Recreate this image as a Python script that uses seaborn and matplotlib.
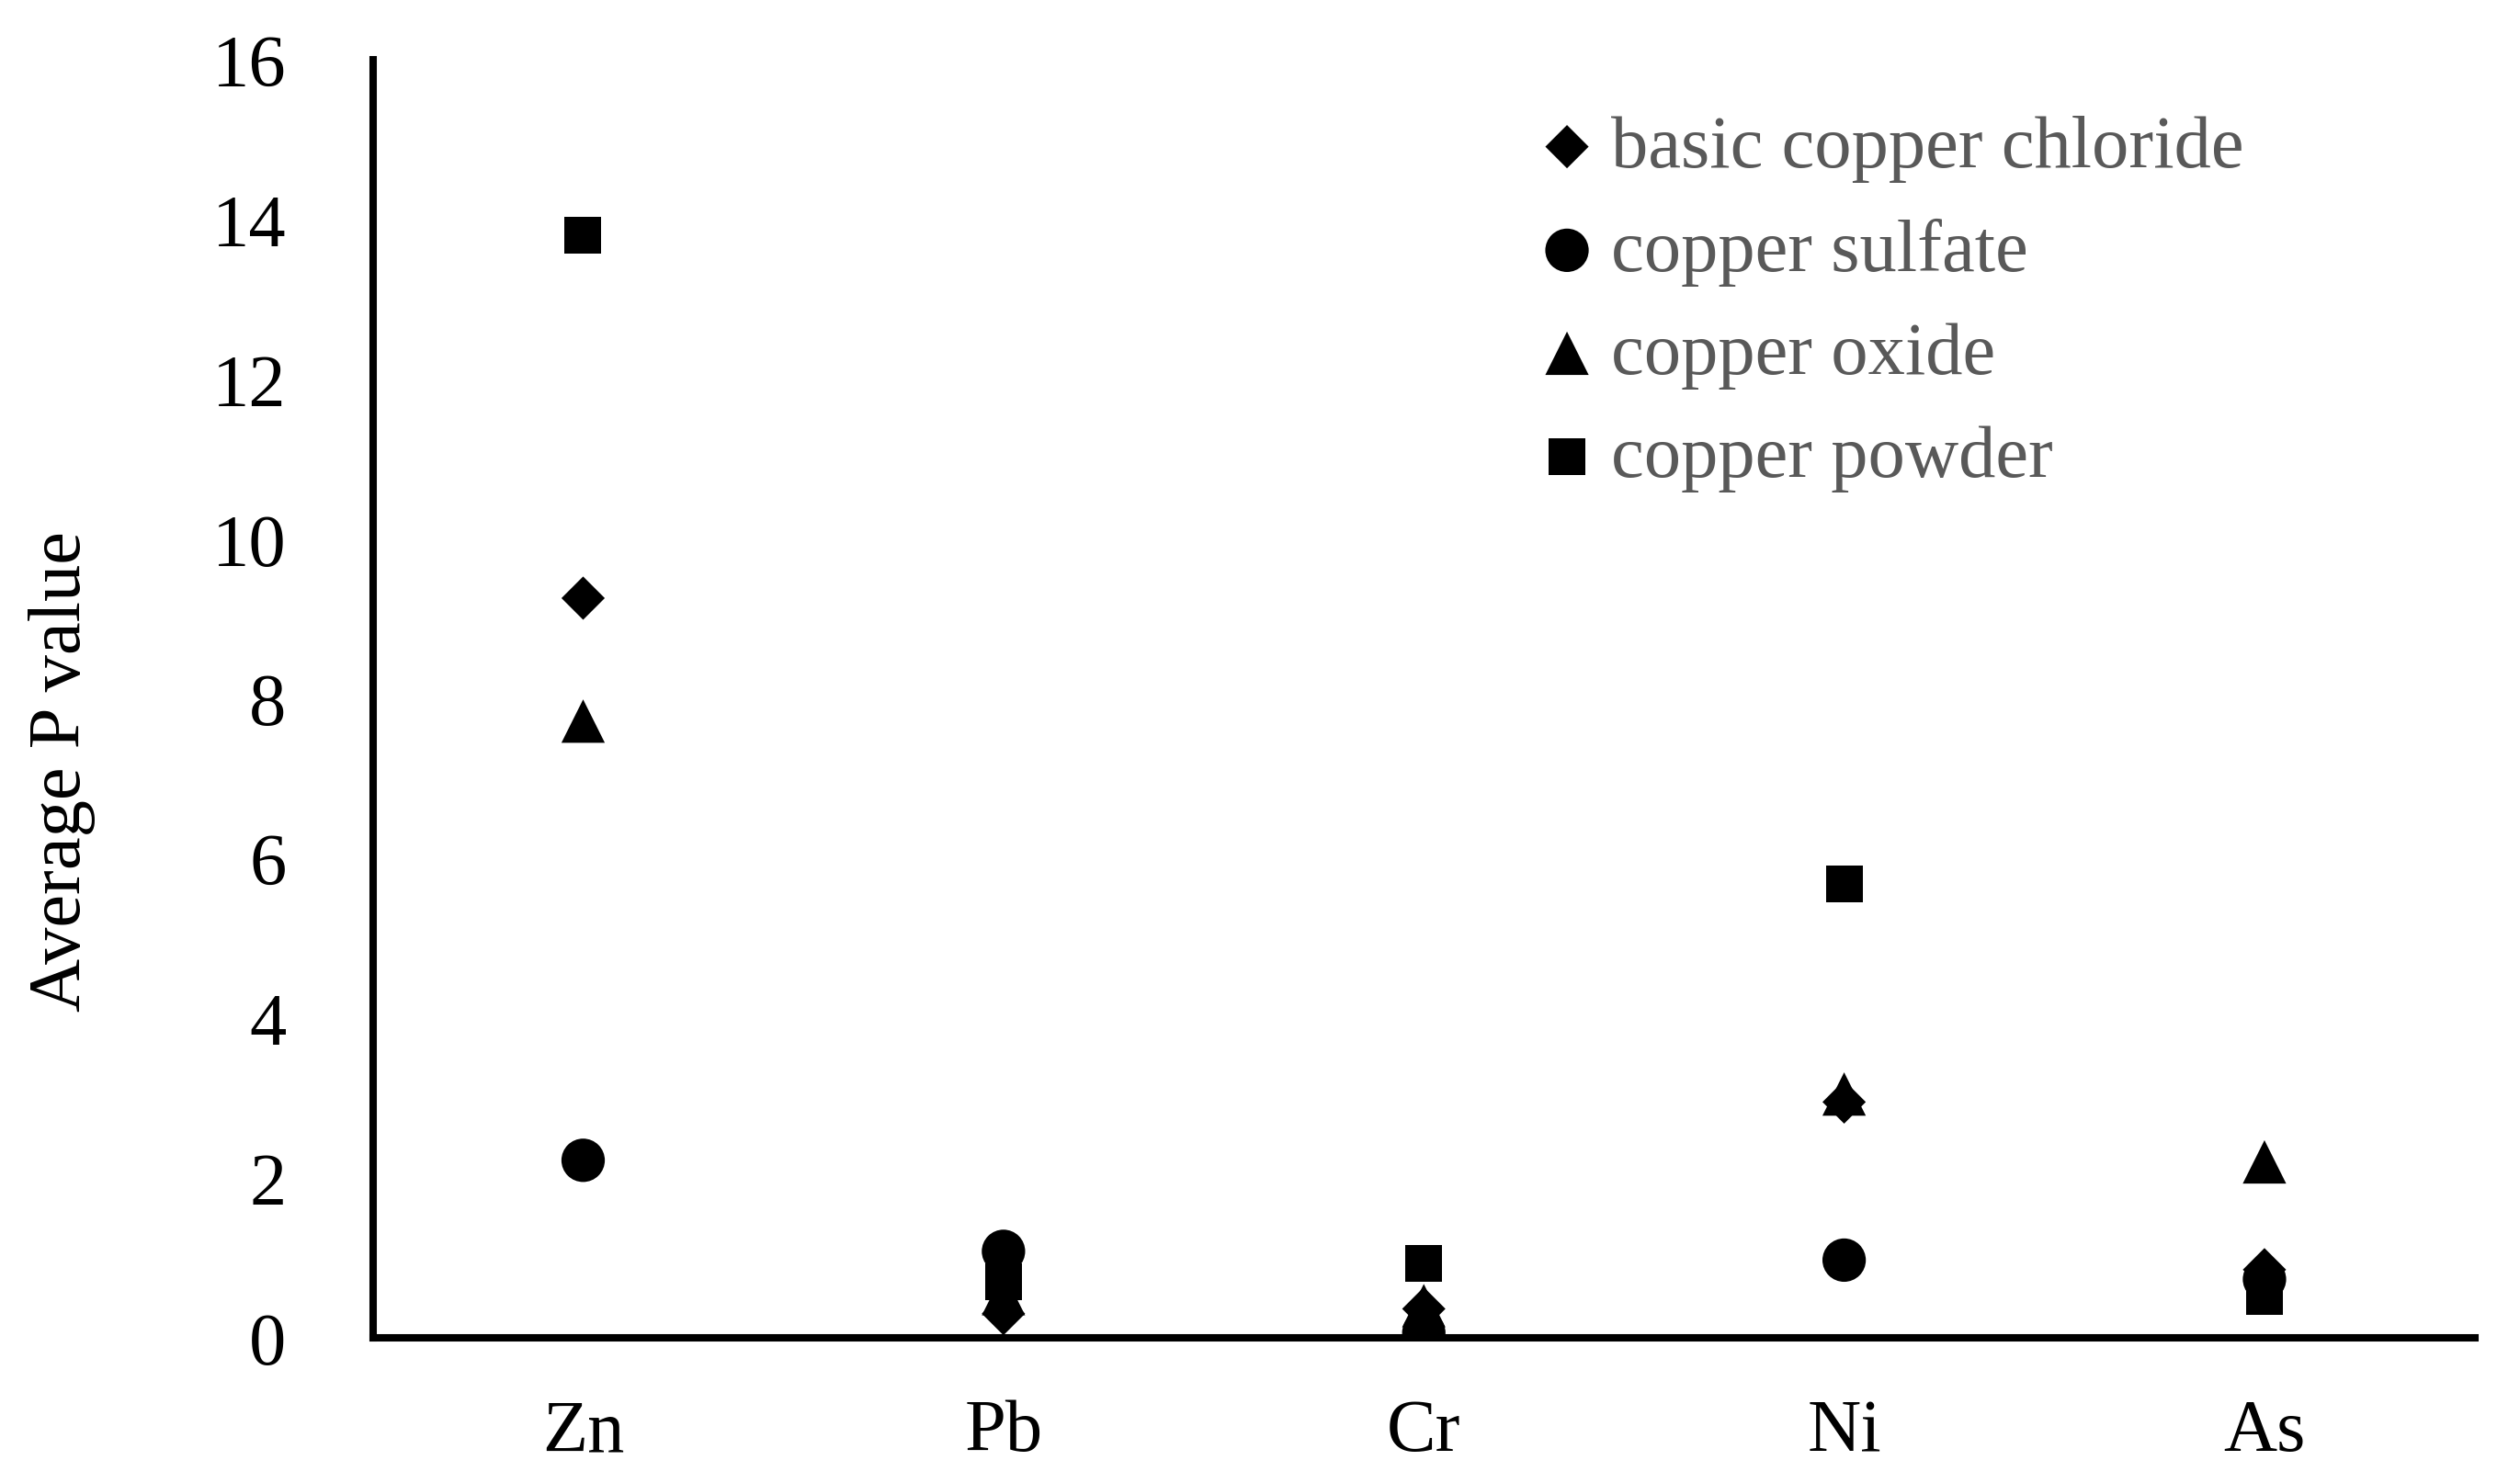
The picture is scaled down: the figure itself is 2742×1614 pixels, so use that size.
import matplotlib
matplotlib.use("Agg")
import matplotlib.pyplot as plt
import seaborn as sns
import pandas as pd

elements = ["Zn", "Pb", "Cr", "Ni", "As"]
basic_copper_chloride = [9.26, 0.30, 0.36, 2.95, 0.85]
copper_sulfate = [2.22, 1.08, 0.06, 0.97, 0.73]
copper_oxide = [7.72, 0.55, 0.40, 3.05, 2.20]
copper_powder = [13.8, 0.70, 0.93, 5.68, 0.52]

series_names = ["basic copper chloride", "copper sulfate", "copper oxide", "copper powder"]
series_values = [basic_copper_chloride, copper_sulfate, copper_oxide, copper_powder]
y_ticks = [0, 2, 4, 6, 8, 10, 12, 14, 16]

rows = []
for name, vals in zip(series_names, series_values):
    for el, v in zip(elements, vals):
        rows.append({"element": el, "value": v, "series": name})
df = pd.DataFrame(rows)

sns.set_theme(style="white")
plt.rcParams["font.family"] = ["Liberation Serif", "DejaVu Serif"]

fig = plt.figure(figsize=(13.71, 8.075), dpi=200)
ax = fig.add_axes([0.148, 0.098, 0.834, 0.861])

markers = {"basic copper chloride": "D", "copper sulfate": "o",
           "copper oxide": "^", "copper powder": "s"}
msizes = {"basic copper chloride": 12.0, "copper sulfate": 17.0,
          "copper oxide": 17.0, "copper powder": 14.4}

for name in series_names:
    sub = df[df["series"] == name]
    sns.scatterplot(data=sub, x="element", y="value", marker=markers[name],
                    s=msizes[name] ** 2, color="black", edgecolor="none",
                    linewidth=0, label=name, ax=ax, zorder=3)

ax.set_xlim(-0.5, 4.5)
ax.set_ylim(0, 16)
ax.set_yticks(y_ticks)
ax.set_yticklabels([str(t) for t in y_ticks])
ax.set_xlabel("")
ax.set_ylabel("Average P value", fontsize=29, color="black")
ax.yaxis.set_label_coords(-0.132, 0.444)
ax.tick_params(axis="both", which="both", length=0, labelsize=29, colors="black")
ax.tick_params(axis="y", pad=34)
ax.tick_params(axis="x", pad=24)

for side in ["top", "right"]:
    ax.spines[side].set_visible(False)
for side in ["left", "bottom"]:
    ax.spines[side].set_color("black")
    ax.spines[side].set_linewidth(2.9)
ax.grid(False)

leg = ax.legend(loc="upper right", bbox_to_anchor=(0.915, 0.998), frameon=False,
                fontsize=29, handletextpad=0.0, labelspacing=0.48,
                borderaxespad=0.3, handlelength=1.2)
for t in leg.get_texts():
    t.set_color("#595959")

fig.savefig("out.png", dpi=200, facecolor="white")
